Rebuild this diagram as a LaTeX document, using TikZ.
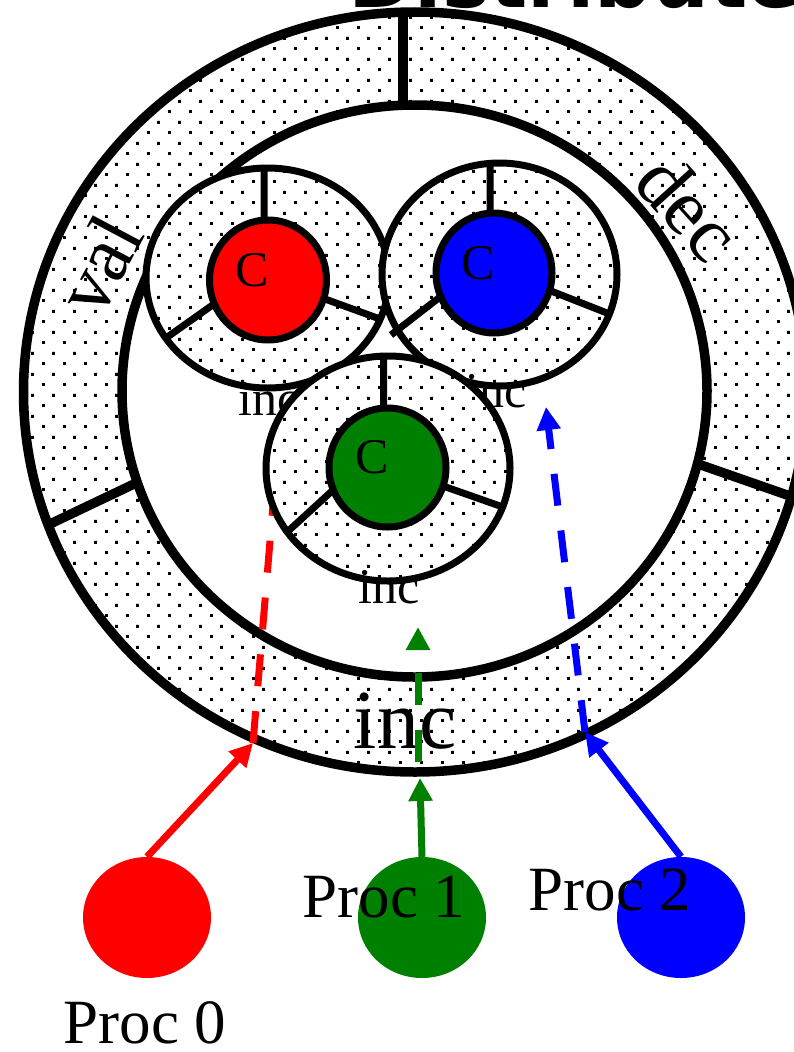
\documentclass[tikz,border=0pt]{standalone}
\usepackage{fontspec}
\setmainfont{Liberation Serif}
\newfontfamily\titlefont{DejaVu Sans}
\usetikzlibrary{patterns,arrows.meta,shapes.geometric}
\pgfdeclarepatternformonly{mydots}{\pgfqpoint{0pt}{0pt}}{\pgfqpoint{21pt}{20.6pt}}{\pgfqpoint{21pt}{20.6pt}}{%
  \pgfpathrectangle{\pgfqpoint{0pt}{0pt}}{\pgfqpoint{3pt}{3pt}}%
  \pgfpathrectangle{\pgfqpoint{10.5pt}{10.3pt}}{\pgfqpoint{3pt}{3pt}}%
  \pgfusepath{fill}}
\definecolor{pgreen}{RGB}{0,128,0}
\tikzset{
  bigline/.style={line width=9.5pt},
  smallline/.style={line width=7pt},
  headtip/.style={-{Triangle[length=23pt,width=23pt]}},
  flow/.style={line width=7pt},
  dashflow/.style={line width=7pt, dash pattern=on 32pt off 25pt},
  ringlbl/.style={inner sep=0pt, font=\fontsize{80}{80}\selectfont},
  biglbl/.style={inner sep=0pt, font=\fontsize{84}{84}\selectfont},
  smalllbl/.style={inner sep=0pt, font=\fontsize{50}{50}\selectfont},
  proclbl/.style={inner sep=0pt, font=\fontsize{63}{63}\selectfont},
  procdot/.style={ellipse, minimum width=128pt, minimum height=121pt, inner sep=0pt},
}
\begin{document}
\begin{tikzpicture}[x=1pt,y=-1pt]
\useasboundingbox (0,0) rectangle (793,1052);
\fill[white] (0,0) rectangle (793,1052);

% title (cut off by the page)
\node[anchor=base west, inner sep=0pt, font=\titlefont\bfseries\fontsize{80}{80}\selectfont] (title) at (348,8) {Distribute};

% ---------- big ring ----------
\coordinate (BC) at (415,392);
\coordinate (BI) at (414.5,391);
\fill[pattern=mydots, even odd rule] (BC) ellipse [x radius=391.5pt, y radius=380pt]
                                    (BI) ellipse [x radius=292.5pt, y radius=286pt];
\node[ringlbl, rotate=62] (val) at (99,265) {val};
\node[ringlbl, rotate=-48] (dec) at (689,207) {dec};
\node[biglbl, anchor=base] (inc) at (405,748) {inc};
\draw[bigline] (BC) ellipse [x radius=391.5pt, y radius=380pt];
\draw[bigline] (BI) ellipse [x radius=292.5pt, y radius=286pt];
\coordinate (s1a) at (403,12);  \coordinate (s1b) at (403,106);
\coordinate (s2a) at (50,524);  \coordinate (s2b) at (134,484);
\coordinate (s3a) at (701,465); \coordinate (s3b) at (790,496);
\draw[bigline] (s1a) -- (s1b);
\draw[bigline] (s2a) -- (s2b);
\draw[bigline] (s3a) -- (s3b);

% ---------- processes ----------
\node[procdot, fill=red]    (p0) at (147,917.5) {};
\node[procdot, fill=pgreen] (p1) at (422,917.5) {};
\node[procdot, fill=blue]   (p2) at (681,917.5) {};
\node[proclbl, anchor=base] (l0) at (145,1043) {Proc 0};
\node[proclbl, anchor=base] (l1) at (384,917) {Proc 1};
\node[proclbl, anchor=base] (l2) at (610,910) {Proc 2};

\coordinate (t0) at (253,743);
\coordinate (t1) at (420,778);
\coordinate (t2) at (585,732);
\coordinate (r1) at (276,470);
\coordinate (g0) at (418,762);
\coordinate (g1) at (418,627);
\coordinate (b1) at (546,407);

% dashed continuations
\draw[dashflow, red] (t0) -- (r1);
\draw[dashflow, pgreen, headtip] (g0) -- (g1);
\draw[dashflow, blue, headtip] (t2) -- (b1);

% solid arrows
\draw[flow, red, headtip] (p0.north) -- (t0);
\draw[flow, pgreen, headtip] (p1.north) -- (t1);
\draw[flow, blue, headtip] (p2.north) -- (t2);

% ---------- red counter ----------
\coordinate (RC) at (267.5,278);
\fill[white] (RC) ellipse [x radius=121.5pt, y radius=110pt];
\fill[pattern=mydots] (RC) ellipse [x radius=121.5pt, y radius=110pt];
\node[smalllbl, anchor=base] (rinc) at (269,415) {inc};
\coordinate (ra1) at (264,168); \coordinate (rb1) at (264,222);
\coordinate (ra2) at (166,338); \coordinate (rb2) at (214,304);
\coordinate (ra3) at (325,299); \coordinate (rb3) at (380,319);
\draw[smallline] (ra1) -- (rb1) (ra2) -- (rb2) (ra3) -- (rb3);
\draw[smallline] (RC) ellipse [x radius=121.5pt, y radius=110pt];
\filldraw[smallline, fill=red] (268,280) ellipse [x radius=58.5pt, y radius=60pt];
\node[smalllbl] (rC) at (252,270) {C};

% ---------- blue counter ----------
\coordinate (UC) at (499.5,274.5);
\fill[white] (UC) ellipse [x radius=117.5pt, y radius=111.5pt];
\fill[pattern=mydots] (UC) ellipse [x radius=117.5pt, y radius=111.5pt];
\node[smalllbl, anchor=base] (binc) at (496,407) {inc};
\coordinate (ua1) at (490,163); \coordinate (ub1) at (490,215);
\coordinate (ua2) at (391,335); \coordinate (ub2) at (440,297);
\coordinate (ua3) at (551,291); \coordinate (ub3) at (607,313);
\draw[smallline] (ua1) -- (ub1) (ua2) -- (ub2) (ua3) -- (ub3);
\draw[smallline] (UC) ellipse [x radius=117.5pt, y radius=111.5pt];
\filldraw[smallline, fill=blue] (494,273) ellipse [x radius=58pt, y radius=60pt];
\node[smalllbl] (bC) at (478,263) {C};

% ---------- green counter ----------
\coordinate (GC) at (388,468.5);
\fill[white] (GC) ellipse [x radius=122pt, y radius=112.5pt];
\fill[pattern=mydots] (GC) ellipse [x radius=122pt, y radius=112.5pt];
\node[smalllbl, anchor=base] (ginc) at (389,603) {inc};
\coordinate (ga1) at (383.5,356); \coordinate (gb1) at (383.5,410);
\coordinate (ga2) at (285,534); \coordinate (gb2) at (332,491);
\coordinate (ga3) at (443,486); \coordinate (gb3) at (500,506);
\draw[smallline] (ga1) -- (gb1) (ga2) -- (gb2) (ga3) -- (gb3);
\draw[smallline] (GC) ellipse [x radius=122pt, y radius=112.5pt];
\filldraw[smallline, fill=pgreen] (387.5,467.5) ellipse [x radius=58.5pt, y radius=59.5pt];
\node[smalllbl] (gC) at (372,457) {C};
\end{tikzpicture}
\end{document}
